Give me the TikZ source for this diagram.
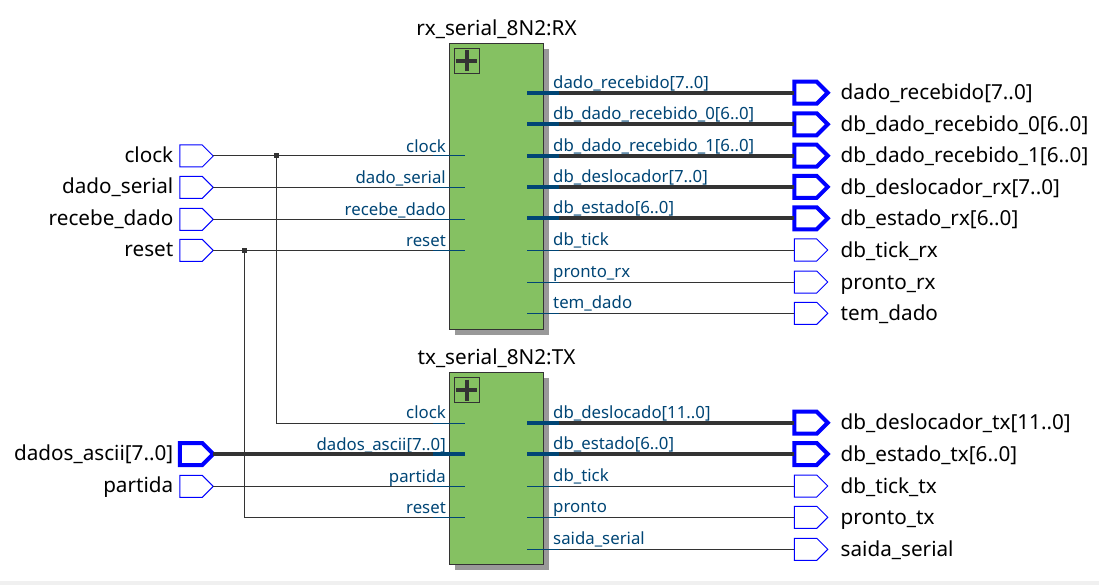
\documentclass[tikz,border=0pt]{standalone}
\usepackage{fontspec}
\setmainfont{Noto Sans}
\usetikzlibrary{shapes.symbols}
\definecolor{blockgreen}{HTML}{85C162}
\definecolor{pinblue}{HTML}{004575}
\definecolor{wiregray}{HTML}{333333}
\definecolor{stripgray}{HTML}{F0F0F0}
\tikzset{
  port/.style={draw=blue, fill=white, signal, signal to=east, signal from=nowhere, signal pointer angle=90,
    minimum width=33.5pt, minimum height=22pt, inner sep=0pt, outer sep=0pt, line width=1pt},
  portbus/.style={port, line width=4pt},
  porttext/.style={text=black, font=\fontsize{20.7}{22}\selectfont, inner sep=0pt, yshift=-0.7pt},
  pintext/.style={text=pinblue, font=\fontsize{16.8}{18}\selectfont, inner sep=0pt, yshift=-0.9pt},
  stub/.style={fill=pinblue, minimum width=32pt, minimum height=1pt, inner sep=0pt, outer sep=0pt},
  stubbus/.style={stub, minimum height=4pt},
  block/.style={draw=wiregray, fill=blockgreen, line width=1pt, minimum width=94.5pt, inner sep=0pt, outer sep=0pt},
  blockshadow/.style={fill=black!40, minimum width=94pt, inner sep=0pt, outer sep=0pt},
  plusbox/.style={draw=wiregray, line width=0.8pt, minimum size=25pt, inner sep=0pt, outer sep=0pt},
  plusbar/.style={wiregray, line width=4pt, shorten >=2pt, shorten <=2pt},
  wire/.style={wiregray, line width=1pt},
  wirebus/.style={wiregray, line width=4pt},
  dot/.style={fill=wiregray, minimum size=5pt, inner sep=0pt, outer sep=0pt}
}
\begin{document}
\begin{tikzpicture}[x=1pt, y=-1pt]
  \useasboundingbox (0,0) rectangle (1099,585);
  \fill[stripgray] (0,581) rectangle (1099,585);

  \node[blockshadow, minimum height=285.7pt] (rx_shadow) at (502,191.9) {};
  \node[blockshadow, minimum height=192pt] (tx_shadow) at (502,474) {};
  \node[block, minimum height=286pt] (rx) at (496.5,186.3) {};
  \node[block, minimum height=192pt] (tx) at (496.5,468.3) {};
  \node[porttext, anchor=base] (rx_title) at (496.5,35) {rx\_serial\_8N2:RX};
  \node[porttext, anchor=base] (tx_title) at (496.5,364) {tx\_serial\_8N2:TX};
  \node[plusbox] (rx_plus) at (466.8,60.8) {};
  \node[plusbox] (tx_plus) at (466.8,390) {};
  \draw[plusbar] (rx_plus.north) -- (rx_plus.south);
  \draw[plusbar] (rx_plus.west) -- (rx_plus.east);
  \draw[plusbar] (tx_plus.north) -- (tx_plus.south);
  \draw[plusbar] (tx_plus.west) -- (tx_plus.east);

  \node[port] (clock) at (191,156) {};
  \node[porttext, anchor=base east] (clock_t) at (173.5,161.5) {clock};
  \node[stub] (rx_clock) at (449,156) {};
  \node[pintext, anchor=base east] (rx_clock_t) at (446,151.5) {clock};
  \draw[wire] (clock.east) -- (rx_clock.west);

  \node[port] (dado_serial) at (191,187.3) {};
  \node[porttext, anchor=base east] (dado_serial_t) at (173.5,192.8) {dado\_serial};
  \node[stub] (rx_dado_serial) at (449,187.3) {};
  \node[pintext, anchor=base east] (rx_dado_serial_t) at (446,182.8) {dado\_serial};
  \draw[wire] (dado_serial.east) -- (rx_dado_serial.west);

  \node[port] (recebe_dado) at (191,219.3) {};
  \node[porttext, anchor=base east] (recebe_dado_t) at (173.5,224.8) {recebe\_dado};
  \node[stub] (rx_recebe_dado) at (449,219.3) {};
  \node[pintext, anchor=base east] (rx_recebe_dado_t) at (446,214.8) {recebe\_dado};
  \draw[wire] (recebe_dado.east) -- (rx_recebe_dado.west);

  \node[port] (reset) at (191,250.3) {};
  \node[porttext, anchor=base east] (reset_t) at (173.5,255.8) {reset};
  \node[stub] (rx_reset) at (449,250.3) {};
  \node[pintext, anchor=base east] (rx_reset_t) at (446,245.8) {reset};
  \draw[wire] (reset.east) -- (rx_reset.west);

  \node[portbus] (dados_ascii) at (191,454) {};
  \node[porttext, anchor=base east] (dados_ascii_t) at (173.5,459.5) {dados\_ascii[7..0]};
  \node[stubbus] (tx_dados_ascii) at (449,454) {};
  \node[pintext, anchor=base east] (tx_dados_ascii_t) at (446,449.5) {dados\_ascii[7..0]};
  \draw[wirebus] (dados_ascii.east) -- (tx_dados_ascii.west);

  \node[port] (partida) at (191,486.3) {};
  \node[porttext, anchor=base east] (partida_t) at (173.5,491.8) {partida};
  \node[stub] (tx_partida) at (449,486.3) {};
  \node[pintext, anchor=base east] (tx_partida_t) at (446,481.8) {partida};
  \draw[wire] (partida.east) -- (tx_partida.west);

  \node[stub] (tx_clock) at (449,423.3) {};
  \node[pintext, anchor=base east] (tx_clock_t) at (446,417.8) {clock};
  \node[dot] (clock_dot) at (276.7,156) {};
  \draw[wire] (clock_dot) |- (tx_clock.west);

  \node[stub] (tx_reset) at (449,517.3) {};
  \node[pintext, anchor=base east] (tx_reset_t) at (446,512.8) {reset};
  \node[dot] (reset_dot) at (244.3,250.3) {};
  \draw[wire] (reset_dot) |- (tx_reset.west);

  \node[portbus] (dado_recebido) at (805.5,92.7) {};
  \node[porttext, anchor=base west] (dado_recebido_t) at (840.5,99.2) {dado\_recebido[7..0]};
  \node[stubbus] (rx_dado_recebido) at (542.5,92.7) {};
  \node[pintext, anchor=base west] (rx_dado_recebido_t) at (553,87.2) {dado\_recebido[7..0]};
  \draw[wirebus] (rx_dado_recebido.east) -- (dado_recebido.west);

  \node[portbus] (db_dado_recebido_0) at (805.5,124.3) {};
  \node[porttext, anchor=base west] (db_dado_recebido_0_t) at (840.5,130.8) {db\_dado\_recebido\_0[6..0]};
  \node[stubbus] (rx_db_dado_recebido_0) at (542.5,124.3) {};
  \node[pintext, anchor=base west] (rx_db_dado_recebido_0_t) at (553,118.8) {db\_dado\_recebido\_0[6..0]};
  \draw[wirebus] (rx_db_dado_recebido_0.east) -- (db_dado_recebido_0.west);

  \node[portbus] (db_dado_recebido_1) at (805.5,155.7) {};
  \node[porttext, anchor=base west] (db_dado_recebido_1_t) at (840.5,162.2) {db\_dado\_recebido\_1[6..0]};
  \node[stubbus] (rx_db_dado_recebido_1) at (542.5,155.7) {};
  \node[pintext, anchor=base west] (rx_db_dado_recebido_1_t) at (553,150.2) {db\_dado\_recebido\_1[6..0]};
  \draw[wirebus] (rx_db_dado_recebido_1.east) -- (db_dado_recebido_1.west);

  \node[portbus] (db_deslocador_rx) at (805.5,186.9) {};
  \node[porttext, anchor=base west] (db_deslocador_rx_t) at (840.5,193.4) {db\_deslocador\_rx[7..0]};
  \node[stubbus] (rx_db_deslocador) at (542.5,186.9) {};
  \node[pintext, anchor=base west] (rx_db_deslocador_t) at (553,181.4) {db\_deslocador[7..0]};
  \draw[wirebus] (rx_db_deslocador.east) -- (db_deslocador_rx.west);

  \node[portbus] (db_estado_rx) at (805.5,218.3) {};
  \node[porttext, anchor=base west] (db_estado_rx_t) at (840.5,224.8) {db\_estado\_rx[6..0]};
  \node[stubbus] (rx_db_estado) at (542.5,218.3) {};
  \node[pintext, anchor=base west] (rx_db_estado_t) at (553,212.8) {db\_estado[6..0]};
  \draw[wirebus] (rx_db_estado.east) -- (db_estado_rx.west);

  \node[port] (db_tick_rx) at (805.5,250) {};
  \node[porttext, anchor=base west] (db_tick_rx_t) at (840.5,256.5) {db\_tick\_rx};
  \node[stub] (rx_db_tick) at (542.5,250) {};
  \node[pintext, anchor=base west] (rx_db_tick_t) at (553,244.5) {db\_tick};
  \draw[wire] (rx_db_tick.east) -- (db_tick_rx.west);

  \node[port] (pronto_rx) at (805.5,282) {};
  \node[porttext, anchor=base west] (pronto_rx_t) at (840.5,288.5) {pronto\_rx};
  \node[stub] (rx_pronto) at (542.5,282) {};
  \node[pintext, anchor=base west] (rx_pronto_t) at (553,276.5) {pronto\_rx};
  \draw[wire] (rx_pronto.east) -- (pronto_rx.west);

  \node[port] (tem_dado) at (805.5,313.3) {};
  \node[porttext, anchor=base west] (tem_dado_t) at (840.5,319.8) {tem\_dado};
  \node[stub] (rx_tem_dado) at (542.5,313.3) {};
  \node[pintext, anchor=base west] (rx_tem_dado_t) at (553,307.8) {tem\_dado};
  \draw[wire] (rx_tem_dado.east) -- (tem_dado.west);

  \node[portbus] (db_deslocador_tx) at (805.5,422.7) {};
  \node[porttext, anchor=base west] (db_deslocador_tx_t) at (840.5,429.2) {db\_deslocador\_tx[11..0]};
  \node[stubbus] (tx_db_deslocado) at (542.5,422.7) {};
  \node[pintext, anchor=base west] (tx_db_deslocado_t) at (553,417.2) {db\_deslocado[11..0]};
  \draw[wirebus] (tx_db_deslocado.east) -- (db_deslocador_tx.west);

  \node[portbus] (db_estado_tx) at (805.5,454) {};
  \node[porttext, anchor=base west] (db_estado_tx_t) at (840.5,460.5) {db\_estado\_tx[6..0]};
  \node[stubbus] (tx_db_estado) at (542.5,454) {};
  \node[pintext, anchor=base west] (tx_db_estado_t) at (553,448.5) {db\_estado[6..0]};
  \draw[wirebus] (tx_db_estado.east) -- (db_estado_tx.west);

  \node[port] (db_tick_tx) at (805.5,486) {};
  \node[porttext, anchor=base west] (db_tick_tx_t) at (840.5,492.5) {db\_tick\_tx};
  \node[stub] (tx_db_tick) at (542.5,486) {};
  \node[pintext, anchor=base west] (tx_db_tick_t) at (553,480.5) {db\_tick};
  \draw[wire] (tx_db_tick.east) -- (db_tick_tx.west);

  \node[port] (pronto_tx) at (805.5,517.3) {};
  \node[porttext, anchor=base west] (pronto_tx_t) at (840.5,523.8) {pronto\_tx};
  \node[stub] (tx_pronto) at (542.5,517.3) {};
  \node[pintext, anchor=base west] (tx_pronto_t) at (553,511.8) {pronto};
  \draw[wire] (tx_pronto.east) -- (pronto_tx.west);

  \node[port] (saida_serial) at (805.5,549.3) {};
  \node[porttext, anchor=base west] (saida_serial_t) at (840.5,555.8) {saida\_serial};
  \node[stub] (tx_saida_serial) at (542.5,549.3) {};
  \node[pintext, anchor=base west] (tx_saida_serial_t) at (553,543.8) {saida\_serial};
  \draw[wire] (tx_saida_serial.east) -- (saida_serial.west);
\end{tikzpicture}
\end{document}
